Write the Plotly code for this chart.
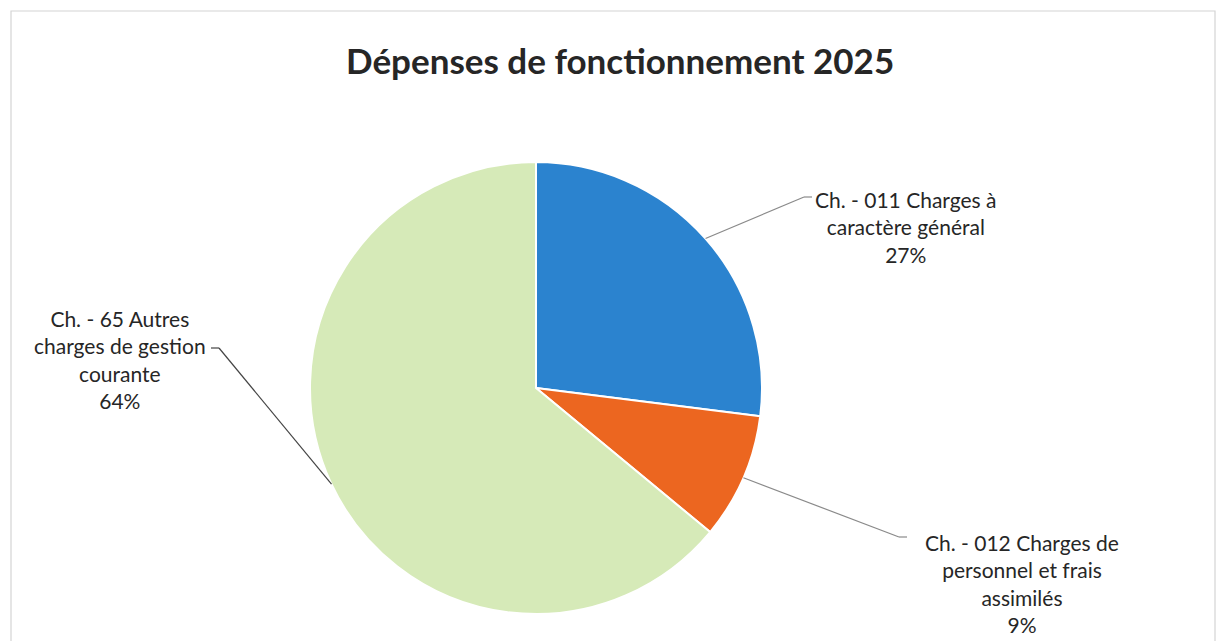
import math
import plotly.graph_objects as go

# Operating expenditure breakdown, 2025
categories = [
    "Ch. - 011 Charges à<br>caractère général",
    "Ch. - 012 Charges de<br>personnel et frais<br>assimilés",
    "Ch. - 65 Autres<br>charges de gestion<br>courante",
]
shares = [27, 9, 64]
colors = ["#2b83cf", "#ec6620", "#d6eab8"]
title_text = "Dépenses de fonctionnement 2025"

W, H = 1218, 641
# pie centre and radius in pixels
CX, CY, R = 536, 388, 226

# point where each leader line meets its label, and text placement, in pixels
label_ends = [(812, 197), (907, 537), (211, 348)]
label_centers = [(906, 227), (1022, 583), (120, 359)]
leader_colors = ["#8a8a8a", "#8a8a8a", "#444444"]
TICK = 8

fig = go.Figure(
    go.Pie(
        labels=[c.replace("<br>", " ") for c in categories],
        values=shares,
        sort=False,
        direction="clockwise",
        rotation=0,
        marker=dict(colors=colors, line=dict(color="white", width=2)),
        textinfo="none",
        hoverinfo="label+percent",
        showlegend=False,
        domain=dict(x=[(CX - R) / W, (CX + R) / W], y=[(H - CY - R) / H, (H - CY + R) / H]),
    )
)

def px(x):
    return x / W

def py(y):
    return 1 - y / H

shapes = []
annotations = []
total = sum(shares)
cum = 0.0
for i, v in enumerate(shares):
    mid = (cum + v / 2) / total * 2 * math.pi
    cum += v
    sx = CX + R * math.sin(mid)
    sy = CY - R * math.cos(mid)
    ex, ey = label_ends[i]
    # short horizontal tick next to the label, on the side facing the pie
    kx = ex - TICK if ex > CX else ex + TICK
    shapes.append(dict(type="line", xref="paper", yref="paper",
                       x0=px(sx), y0=py(sy), x1=px(kx), y1=py(ey),
                       line=dict(color=leader_colors[i], width=1.2)))
    shapes.append(dict(type="line", xref="paper", yref="paper",
                       x0=px(kx), y0=py(ey), x1=px(ex), y1=py(ey),
                       line=dict(color=leader_colors[i], width=1.2)))
    lx, ly = label_centers[i]
    annotations.append(dict(
        x=px(lx), y=py(ly), xref="paper", yref="paper",
        text=f"{categories[i]}<br>{v}%", showarrow=False,
        xanchor="center", yanchor="middle", align="center",
        font=dict(family="Lato, Open Sans, sans-serif", size=21, color="#262626"),
    ))

# chart frame
shapes.append(dict(type="rect", xref="paper", yref="paper",
                   x0=px(11), y0=py(660), x1=px(1215), y1=py(11),
                   line=dict(color="#d4d4d4", width=1.2), fillcolor="rgba(0,0,0,0)",
                   layer="below"))

annotations.append(dict(
    x=px(620), y=py(60), xref="paper", yref="paper",
    text=f"<b>{title_text}</b>", showarrow=False,
    xanchor="center", yanchor="middle",
    font=dict(family="Lato, Open Sans, sans-serif", size=35, color="#262626"),
))

fig.update_layout(
    width=W, height=H,
    margin=dict(l=0, r=0, t=0, b=0),
    paper_bgcolor="white", plot_bgcolor="white",
    shapes=shapes, annotations=annotations,
)

fig.write_html("out.html", config={"displayModeBar": False})
